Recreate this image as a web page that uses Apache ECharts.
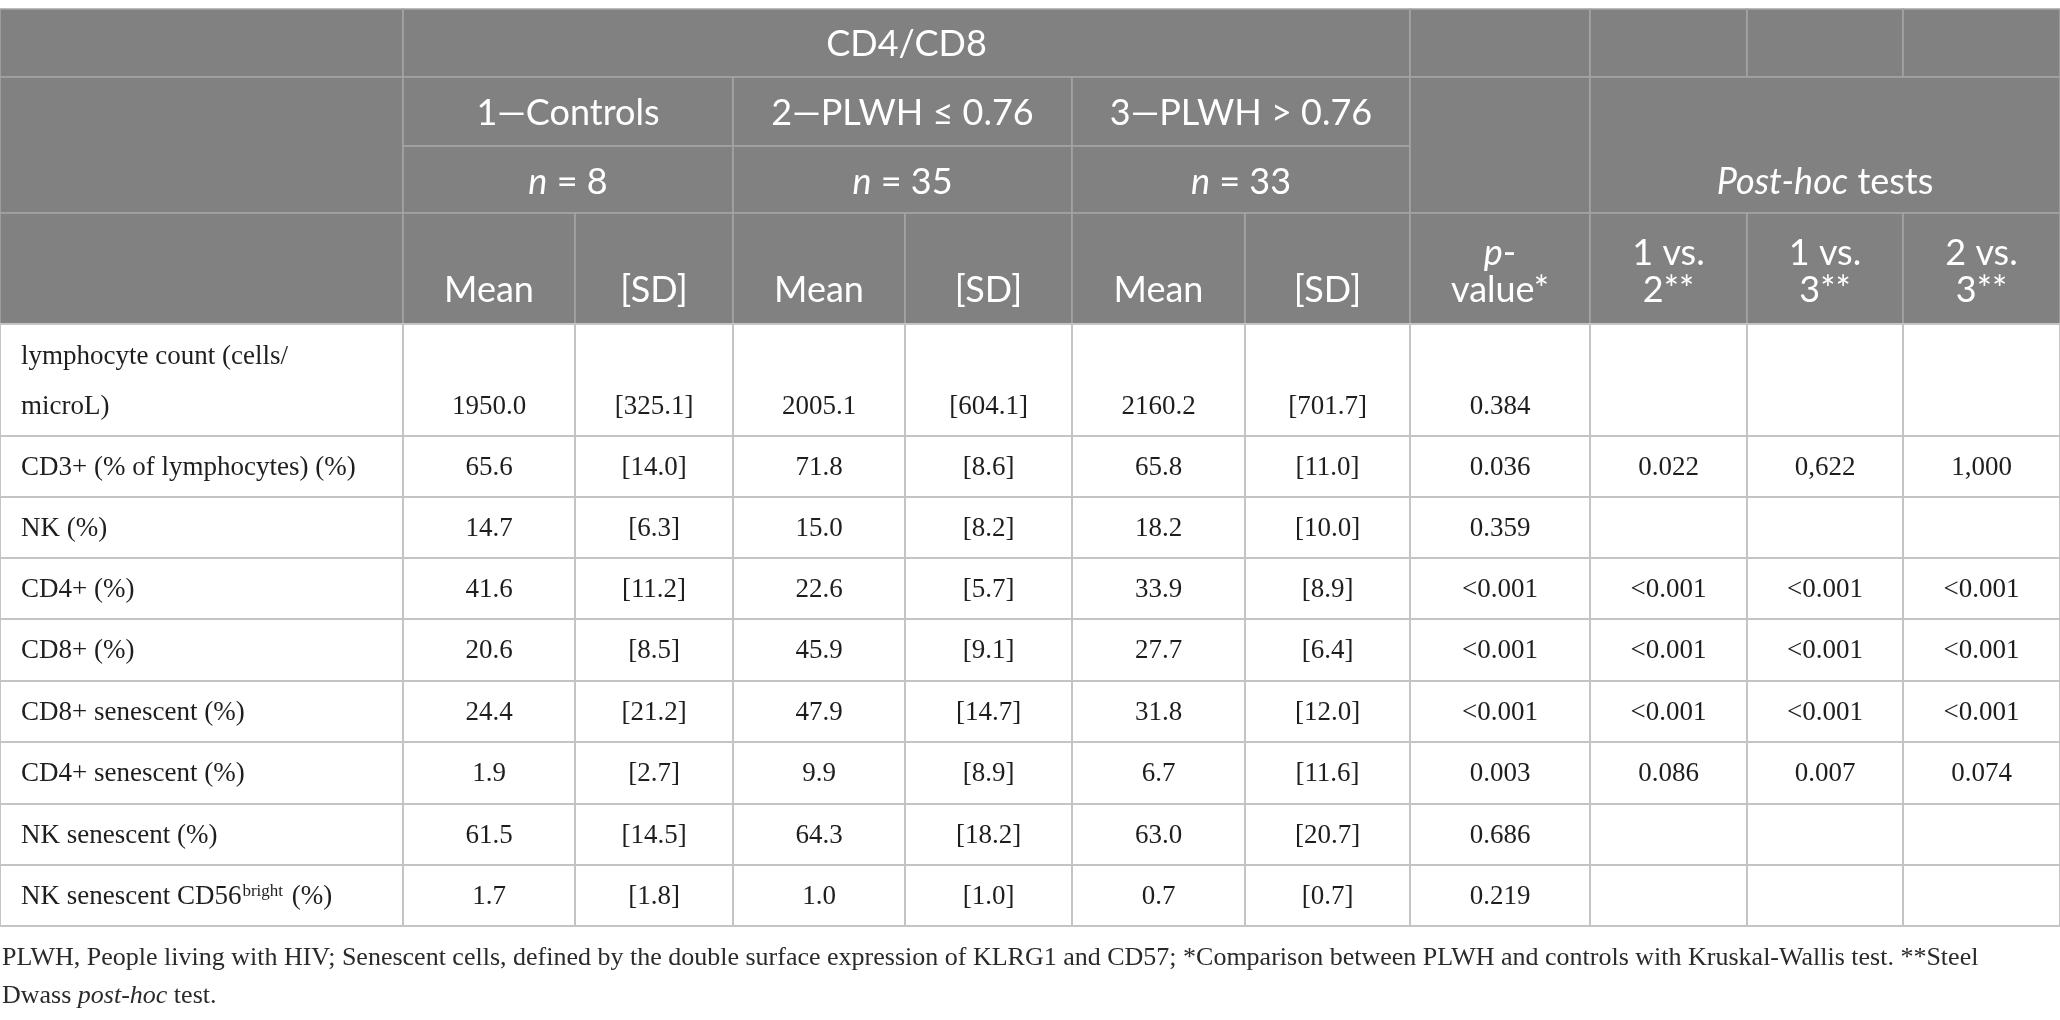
<!DOCTYPE html>
<html lang="en">
<head>
<meta charset="UTF-8">
<title>CD4/CD8 table</title>
<style>html,body{margin:0;padding:0;background:#fff;}</style>
</head>
<body>
<div id="main" style="width:2060px;height:1020px;"></div>
<script src="https://cdn.jsdelivr.net/npm/echarts@6/dist/echarts.min.js"></script>
<script>
// table content
var groupTitle = 'CD4/CD8';
var groupNames = ['1\u2014Controls', '2\u2014PLWH \u2264 0.76', '3\u2014PLWH > 0.76'];
var groupN = ['8', '35', '33'];
var statNames = ['Mean', '[SD]'];
var pHead = '{i|p}-\nvalue*';
var postHead = '{i|Post-hoc} tests';
var postNames = ['1 vs.\n2**', '1 vs.\n3**', '2 vs.\n3**'];

var rowLabels = ['lymphocyte count (cells/\nmicroL)', 'CD3+ (% of lymphocytes) (%)', 'NK (%)', 'CD4+ (%)', 'CD8+ (%)',
    'CD8+ senescent (%)', 'CD4+ senescent (%)', 'NK senescent (%)', 'NK senescent CD56{sup|bright} (%)'];
var mean1 = ['1950.0', '65.6', '14.7', '41.6', '20.6', '24.4', '1.9', '61.5', '1.7'];
var sd1 = ['[325.1]', '[14.0]', '[6.3]', '[11.2]', '[8.5]', '[21.2]', '[2.7]', '[14.5]', '[1.8]'];
var mean2 = ['2005.1', '71.8', '15.0', '22.6', '45.9', '47.9', '9.9', '64.3', '1.0'];
var sd2 = ['[604.1]', '[8.6]', '[8.2]', '[5.7]', '[9.1]', '[14.7]', '[8.9]', '[18.2]', '[1.0]'];
var mean3 = ['2160.2', '65.8', '18.2', '33.9', '27.7', '31.8', '6.7', '63.0', '0.7'];
var sd3 = ['[701.7]', '[11.0]', '[10.0]', '[8.9]', '[6.4]', '[12.0]', '[11.6]', '[20.7]', '[0.7]'];
var pValue = ['0.384', '0.036', '0.359', '<0.001', '<0.001', '<0.001', '0.003', '0.686', '0.219'];
var post12 = ['', '0.022', '', '<0.001', '<0.001', '<0.001', '0.086', '', ''];
var post13 = ['', '0,622', '', '<0.001', '<0.001', '<0.001', '0.007', '', ''];
var post23 = ['', '1,000', '', '<0.001', '<0.001', '<0.001', '0.074', '', ''];

var footLines = [
    'PLWH, People living with HIV; Senescent cells, defined by the double surface expression of KLRG1 and CD57; *Comparison between PLWH and controls with Kruskal-Wallis test. **Steel',
    'Dwass {i|post-hoc} test.'
];

// layout (axis units = px)
var colEdges = [0, 403, 575, 733, 905, 1072, 1245, 1410, 1590, 1747, 1903, 2060];
var headEdges = [9, 77, 146, 213, 324];
var bodyEdges = [324, 436, 497, 558, 619, 681, 742, 804, 865, 926];

var HEAD_BG = '#808180', HEAD_LINE = '#a4a5a4', BODY_LINE = '#c4c4c4';
var SANS = 'Lato', SERIF = '"Liberation Serif", serif';

var cells = [];
function cell(c0, c1, y0, y1, text, kind, ty) {
    cells.push({c0: c0, c1: c1, y0: y0, y1: y1, text: text || '', kind: kind, ty: ty});
}

// header
cell(0, 1, headEdges[0], headEdges[1], '', 'head');
cell(1, 7, headEdges[0], headEdges[1], groupTitle, 'head', 44);
cell(7, 8, headEdges[0], headEdges[1], '', 'head');
for (var k = 8; k < 11; k++) cell(k, k + 1, headEdges[0], headEdges[1], '', 'head');
cell(0, 1, headEdges[1], headEdges[3], '', 'head');
for (var g = 0; g < 3; g++) {
    cell(1 + g * 2, 3 + g * 2, headEdges[1], headEdges[2], groupNames[g], 'head', 113);
    cell(1 + g * 2, 3 + g * 2, headEdges[2], headEdges[3], '{i|n} = ' + groupN[g], 'head', 182);
}
cell(7, 8, headEdges[1], headEdges[3], '', 'head');
cell(8, 11, headEdges[1], headEdges[3], postHead, 'head', 182);
cell(0, 1, headEdges[3], headEdges[4], '', 'head');
for (var s = 0; s < 6; s++) cell(1 + s, 2 + s, headEdges[3], headEdges[4], statNames[s % 2], 'head', 290);
cell(7, 8, headEdges[3], headEdges[4], pHead, 'head', 272);
for (var q = 0; q < 3; q++) cell(8 + q, 9 + q, headEdges[3], headEdges[4], postNames[q], 'head', 272);

// body
var bodyCols = [mean1, sd1, mean2, sd2, mean3, sd3, pValue, post12, post13, post23];
for (var r = 0; r < rowLabels.length; r++) {
    var y0 = bodyEdges[r], y1 = bodyEdges[r + 1];
    var mid = r === 0 ? 407 : (y0 + y1) / 2 + 1;
    cell(0, 1, y0, y1, rowLabels[r], 'label', r === 0 ? 382 : mid);
    for (var c = 0; c < bodyCols.length; c++) cell(c + 1, c + 2, y0, y1, bodyCols[c][r], 'body', mid);
}

var chart = echarts.init(document.getElementById('main'), null, {renderer: 'canvas'});

chart.setOption({
    animation: false,
    backgroundColor: '#fff',
    grid: {left: 0, right: 0, top: 0, bottom: 0},
    xAxis: {type: 'value', min: 0, max: 2060, show: false},
    yAxis: {type: 'value', min: 0, max: 1020, inverse: true, show: false},
    graphic: footLines.map(function (t, i) {
        return {
            type: 'text', left: 2, top: 945 + i * 38,
            style: {
                text: t, font: '26px ' + SERIF, fill: '#2a2a2a',
                rich: {i: {fontStyle: 'italic', fontSize: 26, fontFamily: SERIF, color: '#2a2a2a'}}
            }
        };
    }),
    series: [{
        type: 'custom',
        clip: false,
        data: cells.map(function (d) { return [colEdges[d.c0], d.y0, colEdges[d.c1], d.y1]; }),
        renderItem: function (params, api) {
            var d = cells[params.dataIndex];
            var p0 = api.coord([api.value(0), api.value(1)]);
            var p1 = api.coord([api.value(2), api.value(3)]);
            var head = d.kind === 'head';
            var children = [{
                type: 'rect',
                shape: {x: p0[0], y: p0[1], width: p1[0] - p0[0], height: p1[1] - p0[1]},
                style: {fill: head ? HEAD_BG : '#fff', stroke: head ? HEAD_LINE : BODY_LINE, lineWidth: head ? 1.5 : 2}
            }];
            if (d.text) {
                var tp = api.coord([d.kind === 'label' ? 21 : (api.value(0) + api.value(2)) / 2, d.ty]);
                children.push({
                    type: 'text',
                    x: tp[0], y: tp[1],
                    style: head ? {
                        text: d.text, font: '36px ' + SANS, fill: '#fff',
                        align: 'center', verticalAlign: 'middle', lineHeight: 37,
                        rich: {i: {fontStyle: 'italic', fontSize: 36, fontFamily: SANS, color: '#fff', lineHeight: 37}}
                    } : {
                        text: d.text, font: '27px ' + SERIF, fill: '#1e1e1e',
                        align: d.kind === 'label' ? 'left' : 'center', verticalAlign: 'middle',
                        lineHeight: 50,
                        rich: {sup: {fontSize: 17, fontFamily: SERIF, color: '#1e1e1e', verticalAlign: 'top',
                            lineHeight: 17, padding: [12, 2, 0, 1]}}
                    }
                });
            }
            return {type: 'group', children: children};
        }
    }]
});
</script>
</body>
</html>
